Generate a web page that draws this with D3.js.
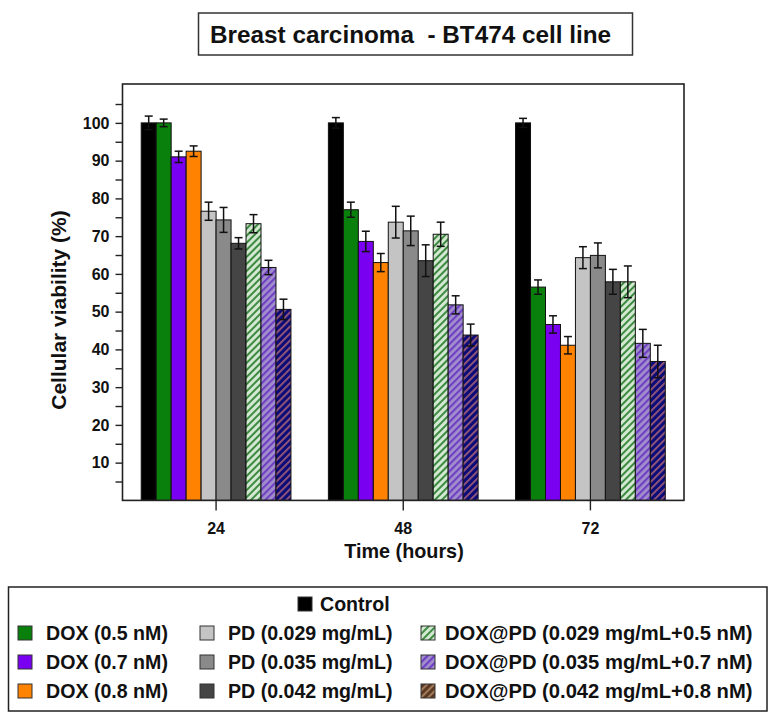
<!DOCTYPE html>
<html><head><meta charset="utf-8">
<script src="https://cdn.jsdelivr.net/npm/d3@7"></script>
<style>
body{margin:0;background:#fff;}
text{font-family:"Liberation Sans",Arial,sans-serif;font-weight:bold;fill:#111;}
</style></head>
<body><svg id="c" width="777" height="721"></svg>
<script>
// ---- data ----
const times = ["24", "48", "72"];
const seriesNames = ["Control","DOX (0.5 nM)","DOX (0.7 nM)","DOX (0.8 nM)",
  "PD (0.029 mg/mL)","PD (0.035 mg/mL)","PD (0.042 mg/mL)",
  "DOX@PD (0.029 mg/mL+0.5 nM)","DOX@PD (0.035 mg/mL+0.7 nM)","DOX@PD (0.042 mg/mL+0.8 nM)"];
const control   = [100, 100, 100];
const dox05     = [100, 77, 56.5];
const dox07     = [91, 68.6, 46.6];
const dox08     = [92.5, 63, 41.1];
const pd029     = [76.6, 73.7, 64.3];
const pd035     = [74.3, 71.4, 64.9];
const pd042     = [68.1, 63.5, 57.9];
const doxpd029  = [73.3, 70.5, 57.9];
const doxpd035  = [61.7, 51.8, 41.6];
const doxpd042  = [50.6, 43.8, 36.8];
const errControl  = [1.8, 1.4, 1.2];
const errDox05    = [1.0, 2.0, 1.9];
const errDox07    = [1.5, 2.7, 2.3];
const errDox08    = [1.4, 2.4, 2.3];
const errPd029    = [2.4, 4.2, 2.9];
const errPd035    = [3.3, 3.9, 3.3];
const errPd042    = [1.5, 4.2, 3.3];
const errDoxpd029 = [2.4, 3.2, 4.2];
const errDoxpd035 = [1.9, 2.4, 3.7];
const errDoxpd042 = [2.7, 2.9, 4.3];
const yTicks = [5,10,15,20,25,30,35,40,45,50,55,60,65,70,75,80,85,90,95,100,105];
const yLabels = [10,20,30,40,50,60,70,80,90,100];

const allValues = [control,dox05,dox07,dox08,pd029,pd035,pd042,doxpd029,doxpd035,doxpd042];
const allErrors = [errControl,errDox05,errDox07,errDox08,errPd029,errPd035,errPd042,errDoxpd029,errDoxpd035,errDoxpd042];

const fills = ["#000000","#0a800c","#7a00f2","#ff8200","#c4c4c4","#8a8a8a","#454545",
  "url(#hGreen)","url(#hPurple)","url(#hNavy)"];
const legendFills = fills.slice(0,9).concat(["url(#hBrown)"]);

const svg = d3.select("#c");
const defs = svg.append("defs");
function hatch(id, bg, fg, w){
  const p = defs.append("pattern").attr("id", id).attr("patternUnits","userSpaceOnUse")
    .attr("width",5).attr("height",5).attr("patternTransform","rotate(45)");
  p.append("rect").attr("width",5).attr("height",5).attr("fill",bg);
  p.append("rect").attr("x",0).attr("y",0).attr("width",w).attr("height",5).attr("fill",fg);
}
hatch("hGreen","#d2e8d0","#3e8a42",2);
hatch("hPurple","#a290cc","#7040c4",2.2);
hatch("hNavy","#0c0c78","#9a5a78",1.8);
hatch("hBrown","#5a3a22","#a07a5a",2);

// ---- layout ----
const L = 122.5, R = 684, T = 84, B = 500.4;
const x0 = d3.scaleBand().domain(times).range([L, R]).paddingInner(0.2).paddingOuter(0.1);
const x1 = d3.scaleBand().domain(d3.range(seriesNames.length)).range([0, x0.bandwidth()]);
const y = d3.scaleLinear().domain([0, 110.3]).range([B, T]);

// title
svg.append("rect").attr("x",198.5).attr("y",13).attr("width",434).attr("height",42)
  .attr("fill","#fff").attr("stroke","#333").attr("stroke-width",1.5);
svg.append("text").attr("x",210).attr("y",43).style("font-size","24.3px").style("white-space","pre")
  .text("Breast carcinoma  - BT474 cell line");

// bars
const g = svg.append("g");
times.forEach((t, ti) => {
  seriesNames.forEach((s, si) => {
    const v = allValues[si][ti];
    const bx = x0(t) + x1(si);
    g.append("rect").attr("x", bx).attr("y", y(v)).attr("width", x1.bandwidth())
      .attr("height", y(0) - y(v)).attr("fill", fills[si])
      .attr("stroke", "#111").attr("stroke-width", 1);
  });
});
// error bars
times.forEach((t, ti) => {
  seriesNames.forEach((s, si) => {
    const v = allValues[si][ti], e = allErrors[si][ti];
    const cx = x0(t) + x1(si) + x1.bandwidth()/2;
    const eg = g.append("g").attr("stroke","#111").attr("stroke-width",1.5);
    eg.append("line").attr("x1",cx).attr("x2",cx).attr("y1",y(v+e)).attr("y2",y(v-e));
    eg.append("line").attr("x1",cx-4).attr("x2",cx+4).attr("y1",y(v+e)).attr("y2",y(v+e));
    eg.append("line").attr("x1",cx-4).attr("x2",cx+4).attr("y1",y(v-e)).attr("y2",y(v-e));
  });
});

// frame
svg.append("rect").attr("x",L).attr("y",T).attr("width",R-L).attr("height",B-T)
  .attr("fill","none").attr("stroke","#222").attr("stroke-width",1.6);

// y axis
const yAxis = d3.axisLeft(y).tickValues(yTicks).tickSize(7)
  .tickFormat(d => yLabels.includes(d) ? d : "");
const ya = svg.append("g").attr("transform",`translate(${L},0)`).call(yAxis);
ya.select(".domain").remove();
ya.selectAll(".tick line").attr("stroke","#222").attr("stroke-width",1.4);
ya.selectAll(".tick text").attr("x",-13)
  .style("font-size","16px").style("font-family","'Liberation Sans',Arial,sans-serif")
  .style("font-weight","bold").attr("fill","#111");

// x axis
const xAxis = d3.axisBottom(x0).tickSize(10).tickPadding(12);
const xa = svg.append("g").attr("transform",`translate(0,${B})`).call(xAxis);
xa.select(".domain").remove();
xa.selectAll(".tick line").attr("stroke","#222").attr("stroke-width",1.4);
xa.selectAll(".tick text")
  .style("font-size","16px").style("font-family","'Liberation Sans',Arial,sans-serif")
  .style("font-weight","bold").attr("fill","#111");

// axis titles
svg.append("text").attr("x",404).attr("y",558).attr("text-anchor","middle")
  .style("font-size","19.8px").text("Time (hours)");
svg.append("text").attr("transform","translate(66,310) rotate(-90)").attr("text-anchor","middle")
  .style("font-size","21px").text("Cellular viability (%)");

// legend
svg.append("rect").attr("x",8.5).attr("y",587).attr("width",758.5).attr("height",124)
  .attr("fill","#fff").attr("stroke","#222").attr("stroke-width",1.5);
const legendPos = [
  [298, 604],
  [18, 633],[18, 662],[18, 691],
  [200, 633],[200, 662],[200, 691],
  [421, 633],[421, 662],[421, 691]
];
seriesNames.forEach((s, si) => {
  const [lx, ly] = legendPos[si];
  svg.append("rect").attr("x",lx).attr("y",ly-7).attr("width",14).attr("height",14)
    .attr("fill",legendFills[si]).attr("stroke","#333").attr("stroke-width",1);
  svg.append("text").attr("x", lx + (si===0 ? 22 : (si>=7 ? 24 : 28))).attr("y", ly+7)
    .style("font-size", si>=7 ? "20.2px" : "19.6px").text(s);
});
</script></body></html>
